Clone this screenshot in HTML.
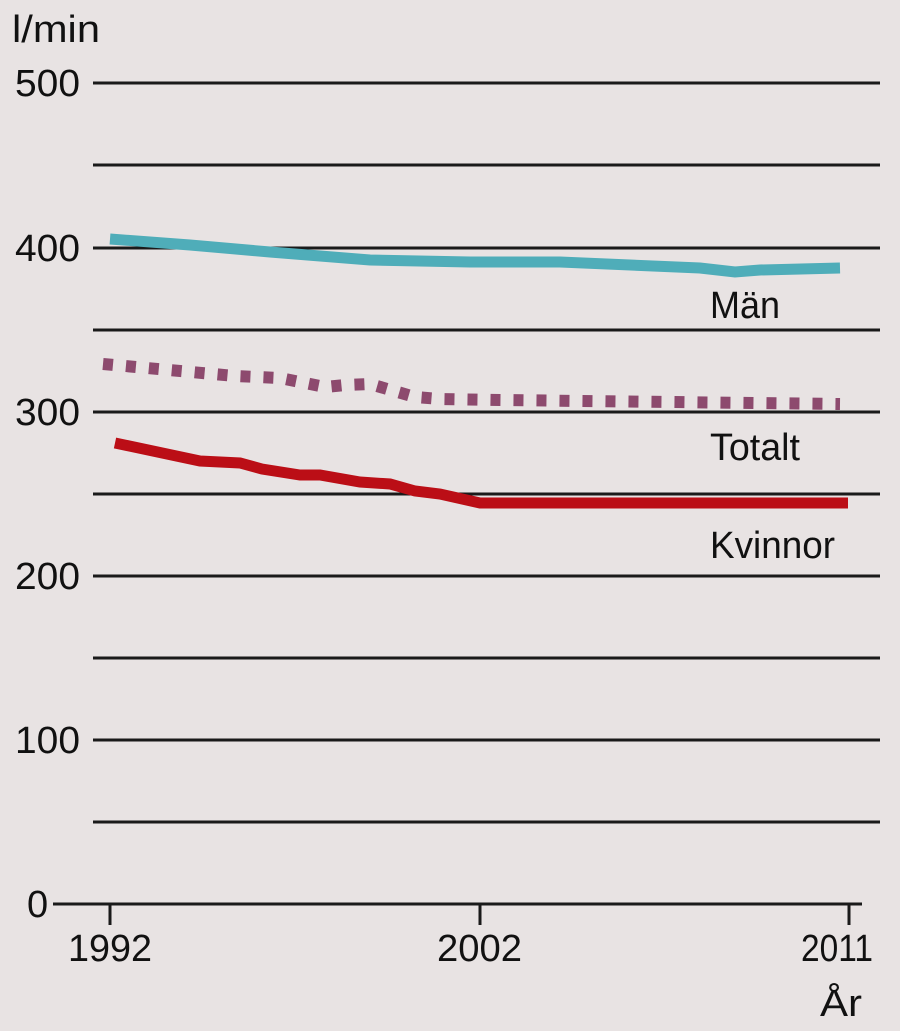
<!DOCTYPE html>
<html><head><meta charset="utf-8"><style>
body{margin:0;background:#e8e3e3;}
svg{display:block}
text{font-family:"Liberation Sans Narrow","Liberation Sans",sans-serif;fill:#111;font-size:38px}
</style></head><body>
<svg width="900" height="1031" viewBox="0 0 900 1031">
<rect width="900" height="1031" fill="#e8e3e3"/>
<g stroke="#1a1a1a" stroke-width="3">
<line x1="93" x2="880" y1="83" y2="83"/>
<line x1="93" x2="880" y1="165" y2="165"/>
<line x1="93" x2="880" y1="248" y2="248"/>
<line x1="93" x2="880" y1="330" y2="330"/>
<line x1="93" x2="880" y1="412" y2="412"/>
<line x1="93" x2="880" y1="494" y2="494"/>
<line x1="93" x2="880" y1="576" y2="576"/>
<line x1="93" x2="880" y1="658" y2="658"/>
<line x1="93" x2="880" y1="740" y2="740"/>
<line x1="93" x2="880" y1="822" y2="822"/>
<line x1="53" x2="862" y1="904" y2="904"/>
<line x1="110" x2="110" y1="904" y2="925"/>
<line x1="480" x2="480" y1="904" y2="925"/>
<line x1="849" x2="849" y1="904" y2="925"/>
</g>
<text x="12" y="42" textLength="88" lengthAdjust="spacingAndGlyphs">l/min</text>
<text x="15" y="96" textLength="65" lengthAdjust="spacingAndGlyphs">500</text>
<text x="15" y="261" textLength="65" lengthAdjust="spacingAndGlyphs">400</text>
<text x="15" y="425" textLength="65" lengthAdjust="spacingAndGlyphs">300</text>
<text x="15" y="589" textLength="65" lengthAdjust="spacingAndGlyphs">200</text>
<text x="15" y="753" textLength="65" lengthAdjust="spacingAndGlyphs">100</text>
<text x="27" y="917">0</text>
<text x="68" y="961" textLength="84" lengthAdjust="spacingAndGlyphs">1992</text>
<text x="437" y="961" textLength="85" lengthAdjust="spacingAndGlyphs">2002</text>
<text x="801" y="961" textLength="72" lengthAdjust="spacingAndGlyphs">2011</text>
<text x="820" y="1016" textLength="42" lengthAdjust="spacingAndGlyphs">År</text>
<text x="710" y="318" textLength="70" lengthAdjust="spacingAndGlyphs">Män</text>
<text x="710" y="460" textLength="90" lengthAdjust="spacingAndGlyphs">Totalt</text>
<text x="710" y="558" textLength="125" lengthAdjust="spacingAndGlyphs">Kvinnor</text>
<polyline fill="none" stroke="#4fadb9" stroke-width="11" points="110,239 190,245 270,252 370,260 470,262 560,262 700,268 735,272 760,270 840,268"/>
<polyline fill="none" stroke="#8d4a6e" stroke-width="12" stroke-dasharray="10 13" points="103,364 235,376 280,378 325,387 345,385 370,384 415,397 440,399 500,400 840,404"/>
<polyline fill="none" stroke="#bb0e16" stroke-width="11" points="115,443 200,461 240,463 262,469 300,475 320,475 360,482 390,484 415,491 440,494 480,503 848,503"/>
</svg>
</body></html>
